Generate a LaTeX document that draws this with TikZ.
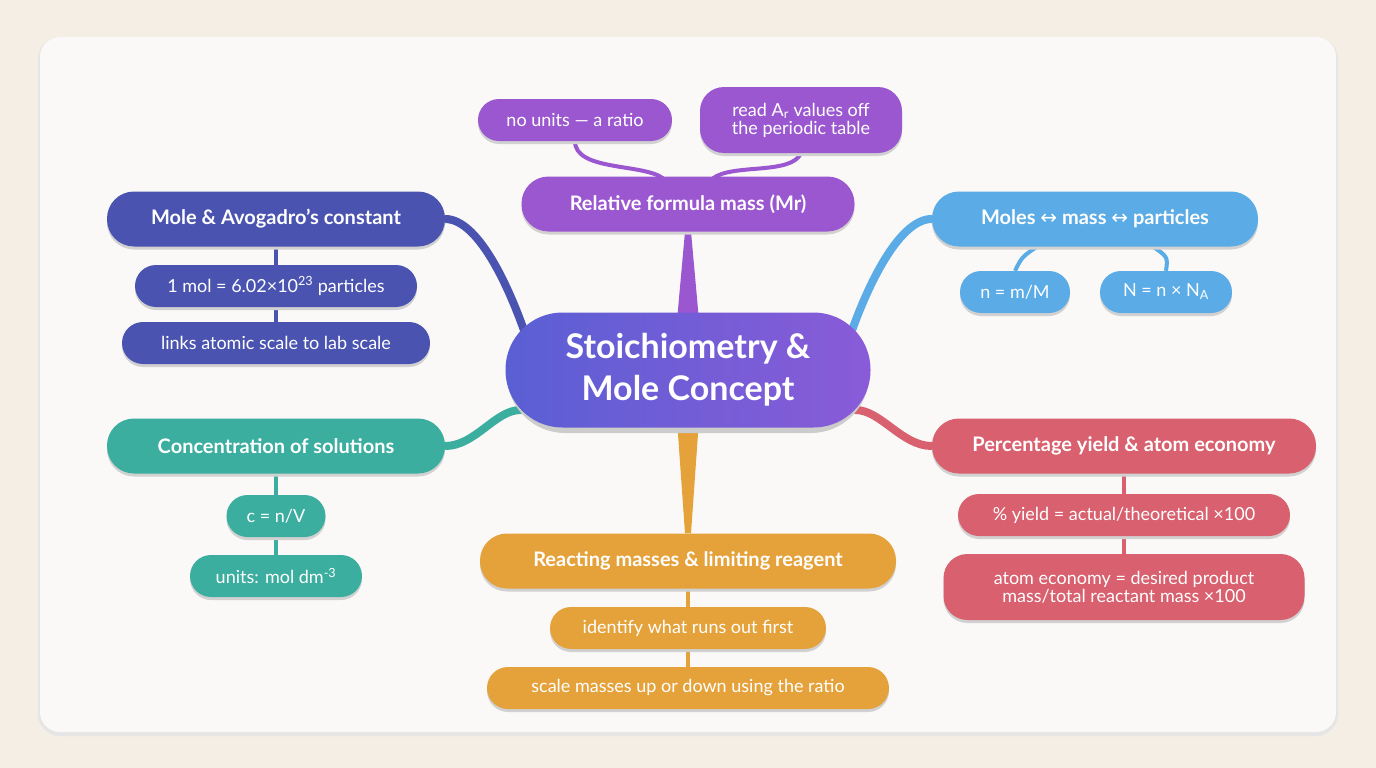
\documentclass[tikz,border=0pt]{standalone}
\usepackage{fontspec}
\setmainfont{Lato}
\newfontfamily\dejavu{DejaVu Sans}
\usetikzlibrary{calc}
\pgfdeclarelayer{bgl}\pgfdeclarelayer{conn}
\pgfsetlayers{bgl,conn,main}
\definecolor{bg}{HTML}{F4EEE4}
\definecolor{card}{HTML}{FAF9F7}
\definecolor{cpur}{HTML}{9B57D0}
\definecolor{cind}{HTML}{4A54B0}
\definecolor{csky}{HTML}{5AABE6}
\definecolor{ctea}{HTML}{3BAE9F}
\definecolor{cred}{HTML}{D9606E}
\definecolor{cora}{HTML}{E6A23A}
\definecolor{cl}{HTML}{5A5FD4}
\definecolor{cr}{HTML}{8A5BD8}
\begin{document}
\begin{tikzpicture}[x=1pt,y=-1pt,
 shd/.style={preaction={fill=black!18,transform canvas={yshift=-3pt}}},
 br/.style={shd,fill=#1,rounded corners=27pt,minimum height=55pt,inner xsep=8pt,text=white,font=\bfseries\fontsize{20}{24}\selectfont},
 lf/.style={shd,fill=#1,rounded corners=21pt,minimum height=42pt,inner xsep=8pt,text=white,font=\fontsize{18}{21}\selectfont,align=center},
 lf2/.style={lf=#1,rounded corners=24pt,minimum height=66pt},
 ln/.style={draw=#1,line width=4pt},
 tb/.style={draw=#1,line width=8pt,line cap=round}]
\useasboundingbox (0,0) rectangle (1376,768);
\begin{pgfonlayer}{bgl}
\fill[bg] (0,0) rectangle (1376,768);
\fill[black!10,rounded corners=22pt] (38,37) rectangle (1338,736);
\fill[card,rounded corners=20pt] (40,37) rectangle (1336,732);
\end{pgfonlayer}
% central
\fill[black!20,rounded corners=58pt] (507,317) rectangle (869,433);
\node[rounded corners=57pt,minimum width=365pt,minimum height=115pt,left color=cl,right color=cr,text=white,font=\bfseries\fontsize{34}{42}\selectfont,align=center] (c) at (688,370) {Stoichiometry \&\\Mole Concept};
% branch nodes
\node[br=cpur,minimum width=333pt] (mr) at (688,204) {Relative formula mass (Mr)};
\node[lf=cpur,minimum width=194pt] (nu) at (575,120) {no units — a ratio};
\node[lf2=cpur,minimum width=202pt] (ar) at (801,120) {read A\textsubscript{r} values off\\[-3pt]the periodic table};
\node[br=cind,minimum width=338pt] (mo) at (276,219) {Mole \& Avogadro's constant};
\node[lf=cind,minimum width=282pt] (m1) at (276,286) {1 mol = 6.02×10\textsuperscript{23} particles};
\node[lf=cind,minimum width=308pt] (m2) at (276,343) {links atomic scale to lab scale};
\node[br=csky,minimum width=326pt] (mm) at (1095,219) {Moles {\dejavu\mdseries ↔} mass {\dejavu\mdseries ↔} particles};
\node[lf=csky,minimum width=110pt] (s1) at (1015,292) {n = m/M};
\node[lf=csky,minimum width=132pt] (s2) at (1166,292) {N = n × N\textsubscript{A}};
\node[br=ctea,minimum width=338pt] (co) at (276,446) {Concentration of solutions};
\node[lf=ctea,minimum width=99pt] (t1) at (276,516) {c = n/V};
\node[lf=ctea,minimum width=172pt] (t2) at (276,576) {units: mol dm\textsuperscript{-3}};
\node[br=cred,minimum width=384pt] (py) at (1124,446) {Percentage yield \& atom economy};
\node[lf=cred,minimum width=332pt] (p1) at (1124,515) {\% yield = actual/theoretical ×100};
\node[lf2=cred,minimum width=361pt] (p2) at (1124,587) {atom economy = desired product\\[-3pt]mass/total reactant mass ×100};
\node[br=cora,minimum width=416pt] (re) at (688,561) {Reacting masses \& limiting reagent};
\node[lf=cora,minimum width=276pt] (r1) at (688,628) {identify what runs out first};
\node[lf=cora,minimum width=402pt] (r2) at (688,688) {scale masses up or down using the ratio};
% connectors
\begin{pgfonlayer}{conn}
\draw[tb=cind] (mo.east) .. controls +(35,0) and +(-15,-45) .. ($(c.west)+(22,-30)$);
\draw[tb=csky] (mm.west) .. controls +(-35,0) and +(15,-45) .. ($(c.east)+(-22,-30)$);
\draw[tb=ctea] (co.east) .. controls +(30,0) and +(-25,0) .. ($(c.west)+(15,40)$);
\draw[tb=cred] (py.west) .. controls +(-30,0) and +(25,0) .. ($(c.east)+(-15,40)$);
\fill[cpur] ($(mr.south)+(-3,0)$) -- ($(mr.south)+(3,0)$) -- ($(c.north)+(11,8)$) -- ($(c.north)+(-11,8)$) -- cycle;
\fill[cora] ($(re.north)+(-3,0)$) -- ($(re.north)+(3,0)$) -- ($(c.south)+(11,-8)$) -- ($(c.south)+(-11,-8)$) -- cycle;
\draw[ln=cpur] (nu.south) .. controls +(0,30) and +(-20,-15) .. ($(mr.north)+(-25,2)$);
\draw[ln=cpur] (ar.south) .. controls +(-10,22) and +(20,-15) .. ($(mr.north)+(25,2)$);
\draw[ln=cind] (mo) -- (m1) -- (m2);
\draw[ln=ctea] (co) -- (t1) -- (t2);
\draw[ln=cred] (py) -- (p1) -- (p2);
\draw[ln=cora] (re) -- (r1) -- (r2);
\draw[ln=csky] ($(mm.south)+(-55,-2)$) .. controls +(-18,12) .. (s1.north);
\draw[ln=csky] ($(mm.south)+(55,-2)$) .. controls +(18,12) .. (s2.north);
\end{pgfonlayer}
\end{tikzpicture}
\end{document}
